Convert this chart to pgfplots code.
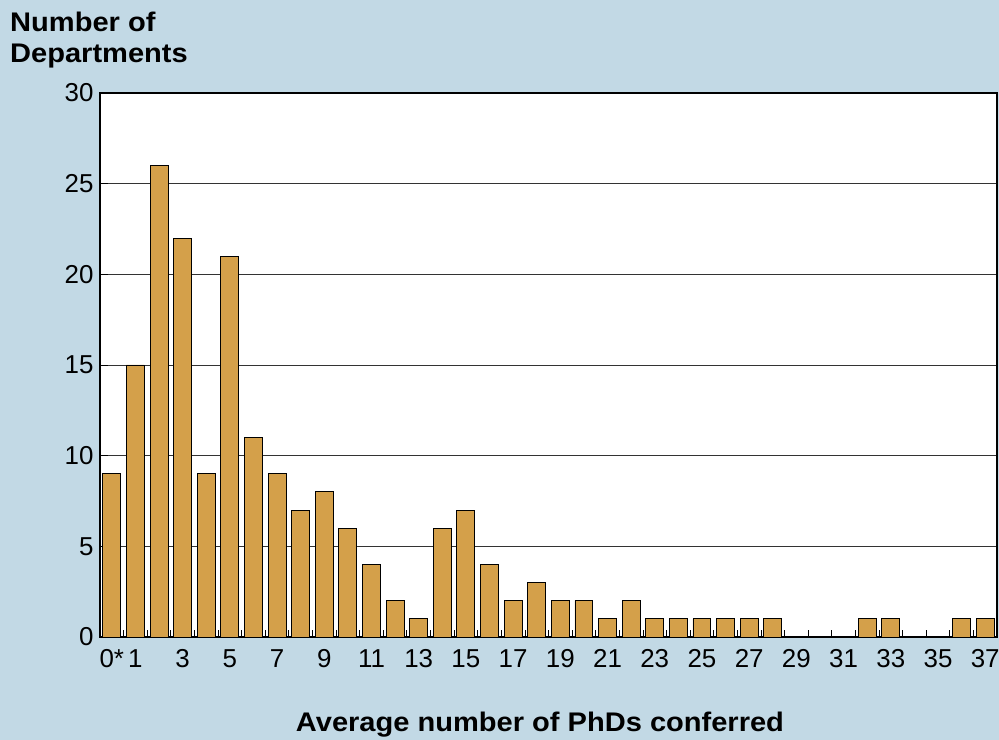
\documentclass[border=0pt]{standalone}
\usepackage{pgfplots}
\pgfplotsset{compat=1.18}
\usepackage{fontspec}
\setmainfont{Liberation Sans}
\definecolor{bgblue}{HTML}{C2D9E5}
\definecolor{barorange}{HTML}{D4A04A}
\begin{document}
\begin{tikzpicture}[x=1bp,y=1bp]
\useasboundingbox (0,0) rectangle (999,740);
\fill[bgblue] (0,0) rectangle (999,740);
\begin{axis}[
  at={(100bp,103bp)}, anchor=south west,
  scale only axis, width=897bp, height=544bp,
  xmin=-0.5, xmax=37.5, ymin=0, ymax=30,
  axis background/.style={fill=white},
  ybar, bar width=0.76, bar shift=0pt,
  xtick={0,1,3,5,7,9,11,13,15,17,19,21,23,25,27,29,31,33,35,37},
  xticklabels={0*,1,3,5,7,9,11,13,15,17,19,21,23,25,27,29,31,33,35,37},
  minor xtick={0.5,1.5,...,36.5},
  major x tick style={draw=none},
  minor x tick style={black, line width=0.8pt},
  minor tick length=7bp,
  x tick label style={yshift=-9bp},
  ytick={0,5,...,30},
  ymajorgrids, major grid style={black!80, line width=0.6pt},
  y tick style={black, line width=0.8pt},
  major tick length=8bp,
  tick align=inside,
  xtick pos=bottom, ytick pos=left,
  tick label style={font=\fontsize{26}{30}\selectfont},
  /pgf/number format/assume math mode=true,
  y tick label style={xshift=-3bp},
  axis line style={black, line width=1.2pt},
]
\addplot[fill=barorange, draw=black, line width=0.9pt] coordinates {
(0,9) (1,15) (2,26) (3,22) (4,9) (5,21) (6,11) (7,9) (8,7) (9,8)
(10,6) (11,4) (12,2) (13,1) (14,6) (15,7) (16,4) (17,2) (18,3) (19,2)
(20,2) (21,1) (22,2) (23,1) (24,1) (25,1) (26,1) (27,1) (28,1)
(32,1) (33,1) (36,1) (37,1)
};
\end{axis}
\node[anchor=base west, font=\fontsize{27}{30}\selectfont\bfseries, inner sep=0pt, xscale=1.08] at (10,708) {Number of};
\node[anchor=base west, font=\fontsize{27}{30}\selectfont\bfseries, inner sep=0pt, xscale=1.08] at (10,677) {Departments};
\node[anchor=base, font=\fontsize{27}{30}\selectfont\bfseries, inner sep=0pt, xscale=1.08] at (540,8) {Average number of PhDs conferred};
\end{tikzpicture}
\end{document}
